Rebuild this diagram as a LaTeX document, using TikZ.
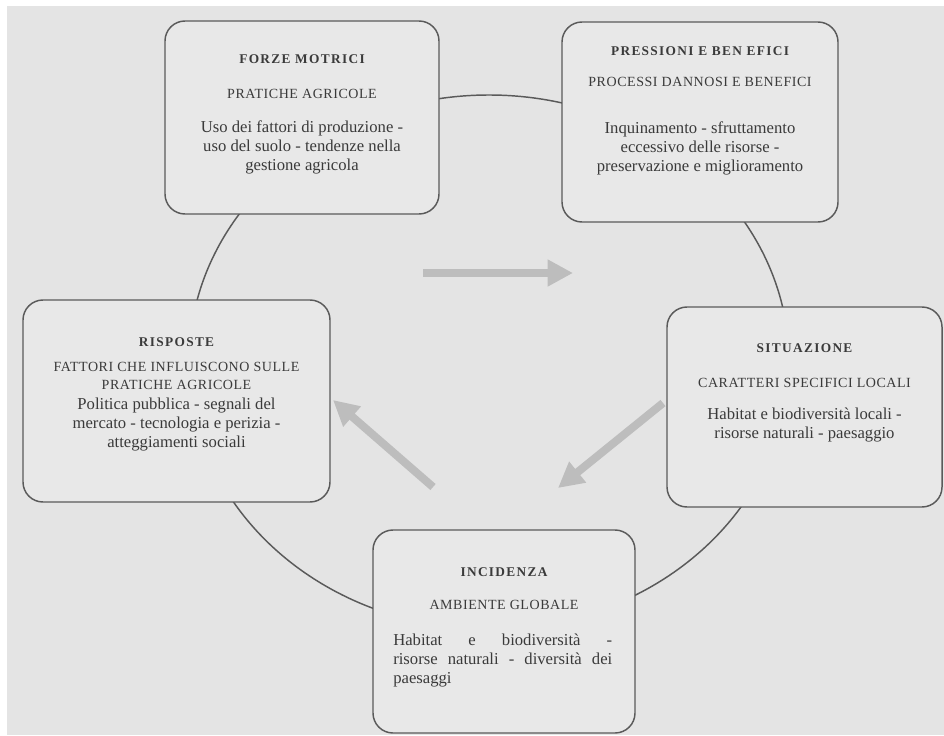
\documentclass[tikz,border=0pt]{standalone}
\usepackage{fontspec}
\setmainfont{Liberation Serif}
\usetikzlibrary{arrows.meta,shapes.geometric}
\definecolor{bg}{HTML}{E4E4E4}
\definecolor{boxfill}{HTML}{E8E8E8}
\definecolor{edge}{HTML}{5A5A5A}
\definecolor{ink}{HTML}{3A3A3A}
\definecolor{arr}{HTML}{BDBDBD}
\begin{document}
\begin{tikzpicture}[x=0.75pt,y=-0.75pt,
 panel/.style={draw=edge, line width=1.1pt, rounded corners=15pt, fill=boxfill, inner sep=0pt, outer sep=0pt},
 ttl/.style={font=\fontsize{10}{11}\selectfont\bfseries\addfontfeatures{LetterSpace=10}, text=ink, inner sep=0pt},
 sub/.style={font=\fontsize{10.5}{13.5}\selectfont\addfontfeatures{LetterSpace=4}, text=ink, inner sep=0pt, align=center},
 body/.style={font=\fontsize{12.5}{14.25}\selectfont, text=ink, inner sep=0pt, align=center},
 flow/.style={draw=arr, line width=6pt, -{Triangle[length=19pt,width=19pt]}}]
\useasboundingbox (0,0) rectangle (944,735);
\path[fill=white] (0,0) rectangle (944,735);
\path[fill=bg] (7,6) rectangle (944,735);
\node[ellipse, draw=edge, line width=1.1pt, minimum width=450pt, minimum height=400.5pt, inner sep=0pt] (ring) at (489,362) {};
% boxes
\node[panel, minimum width=205.5pt, minimum height=144.75pt] (box1) at (302,117.5) {};
\node[panel, minimum width=207pt, minimum height=150pt] (box2) at (700,122) {};
\node[panel, minimum width=230.25pt, minimum height=151.5pt] (box3) at (176.5,401) {};
\node[panel, minimum width=206.25pt, minimum height=150pt] (box4) at (804.5,407) {};
\node[panel, minimum width=196.5pt, minimum height=152.25pt] (box5) at (504,631.5) {};
% box 1
\node[ttl] (t1) at (302,59) {FORZE MOTRICI};
\node[sub] (s1) at (302,94) {PRATICHE AGRICOLE};
\node[body] (b1) at (302,147) {Uso dei fattori di produzione -\\ uso del suolo - tendenze nella\\ gestione agricola};
% box 2
\node[ttl] (t2) at (700,51) {PRESSIONI E BEN EFICI};
\node[sub] (s2) at (700,82) {PROCESSI DANNOSI E BENEFICI};
\node[body] (b2) at (700,148) {Inquinamento - sfruttamento\\ eccessivo delle risorse -\\ preservazione e miglioramento};
% box 3
\node[ttl] (t3) at (176.5,342) {RISPOSTE};
\node[sub] (s3) at (176.5,376) {FATTORI CHE INFLUISCONO SULLE\\ PRATICHE AGRICOLE};
\node[body] (b3) at (176.5,425) {Politica pubblica - segnali del\\ mercato - tecnologia e perizia -\\ atteggiamenti sociali};
% box 4
\node[ttl] (t4) at (804.5,348) {SITUAZIONE};
\node[sub] (s4) at (804.5,383) {CARATTERI SPECIFICI LOCALI};
\node[body] (b4) at (804.5,425) {Habitat e biodiversità locali -\\ risorse naturali - paesaggio};
% box 5
\node[ttl] (t5) at (504,572) {INCIDENZA};
\node[sub] (s5) at (504,605) {AMBIENTE GLOBALE};
\node[body, align=left, anchor=west] (b5) at (393,660) {\makebox[164.25pt][s]{Habitat e biodiversità -}\\ \makebox[164.25pt][s]{risorse naturali - diversità dei}\\ paesaggi};
% arrows
\coordinate (a1s) at (423,273); \coordinate (a1e) at (573,273);
\coordinate (a2s) at (663,403); \coordinate (a2e) at (558,488);
\coordinate (a3s) at (433,487); \coordinate (a3e) at (333,400);
\draw[flow] (a1s) -- (a1e);
\draw[flow] (a2s) -- (a2e);
\draw[flow] (a3s) -- (a3e);
\end{tikzpicture}
\end{document}
